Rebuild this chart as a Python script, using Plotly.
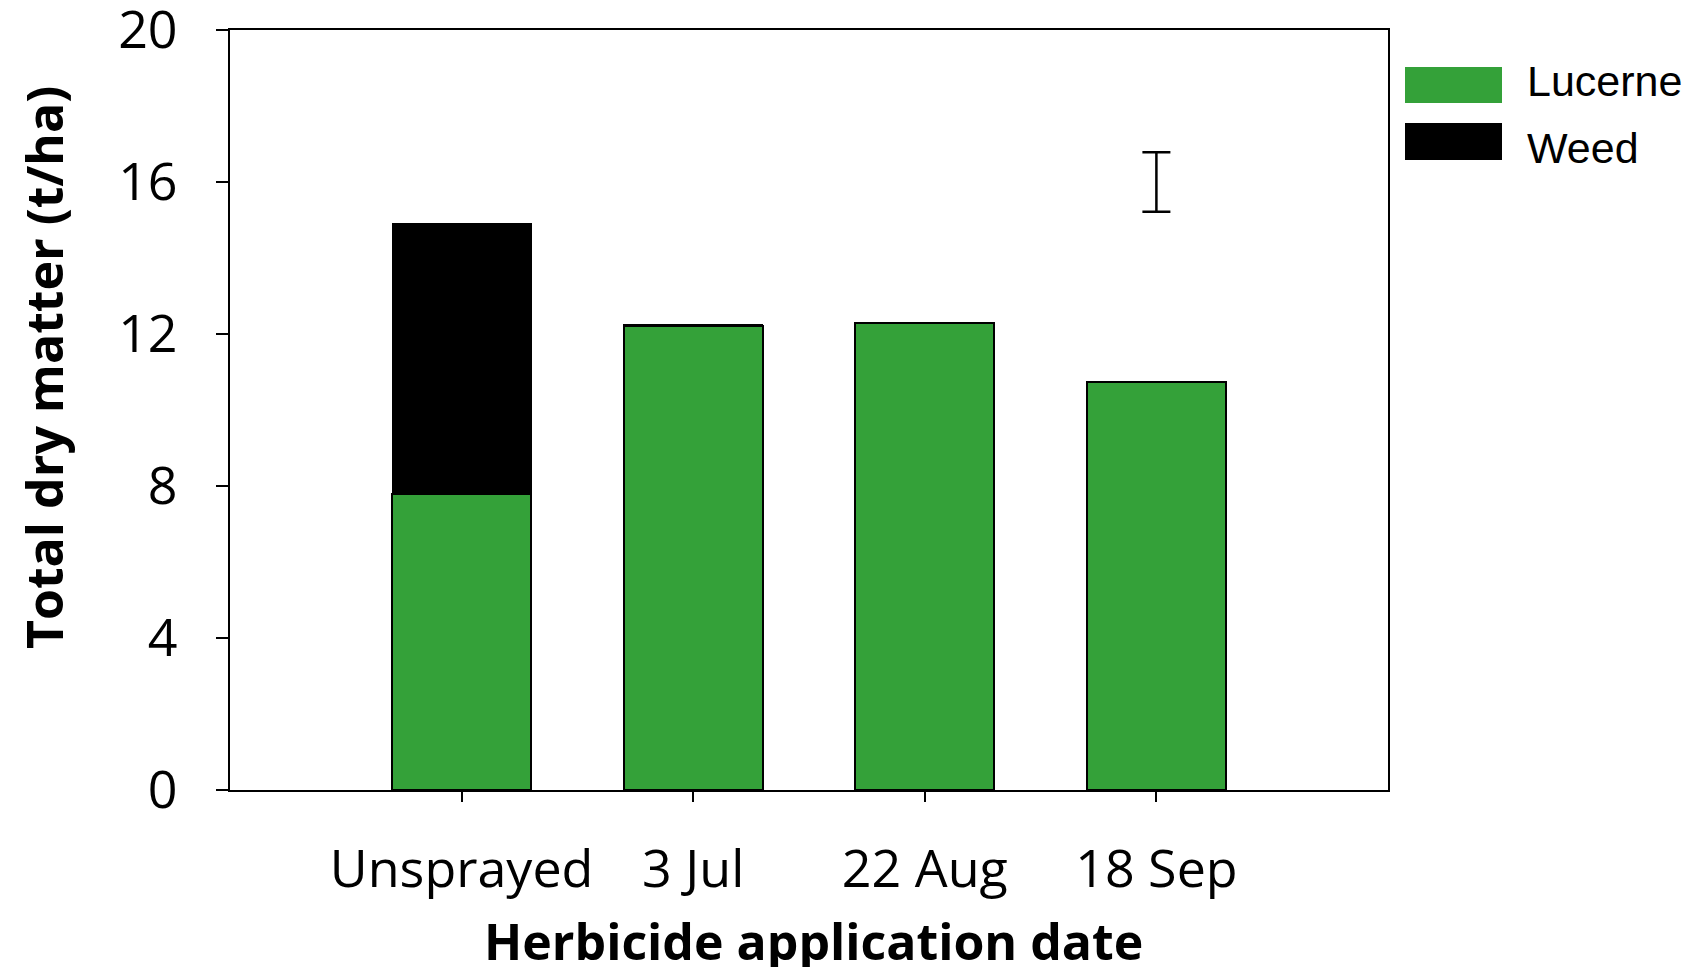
import plotly.graph_objects as go

categories = ["Unsprayed", "3 Jul", "22 Aug", "18 Sep"]
lucerne = [7.8, 12.2, 12.3, 10.75]
weed = [7.1, 0.05, 0.0, 0.0]
err_x = ["18 Sep"]
err_y = [16.0]
err_half = [0.78]
y_ticks = [0, 4, 8, 12, 16, 20]

GREEN = "#34A139"
fig = go.Figure()
fig.add_trace(go.Bar(x=categories, y=lucerne, name="Lucerne", width=0.6,
                     marker=dict(color=GREEN, line=dict(color="black", width=2))))
fig.add_trace(go.Bar(x=categories, y=weed, name="Weed", width=0.6,
                     marker=dict(color="black", line=dict(color="black", width=1))))
fig.add_trace(go.Scatter(x=err_x, y=err_y, mode="markers", marker=dict(size=1, color="rgba(0,0,0,0)"),
                         error_y=dict(type="data", array=err_half, visible=True, color="black",
                                      thickness=2.5, width=14), showlegend=False, hoverinfo="skip"))

OFF = 8  # default page body margin
L, R, T, B = 230 - OFF, 310, 30 - OFF, 177
W, H = 1698 - OFF, 967 - OFF
pw, ph = W - L - R, H - T - B

def px(x):
    return (x - OFF - L) / pw

def py(y):
    return (H - B - (y - OFF)) / ph

shapes = [
    dict(type="rect", xref="paper", yref="paper", x0=px(1405), x1=px(1502), y0=py(103), y1=py(67),
         fillcolor=GREEN, line=dict(width=0)),
    dict(type="rect", xref="paper", yref="paper", x0=px(1405), x1=px(1502), y0=py(160), y1=py(123),
         fillcolor="black", line=dict(width=0)),
]
annotations = [
    dict(text="Lucerne", xref="paper", yref="paper", x=px(1525), y=py(81), xanchor="left", yanchor="middle",
         showarrow=False, font=dict(family="Liberation Sans", size=43, color="black")),
    dict(text="Weed", xref="paper", yref="paper", x=px(1525), y=py(148), xanchor="left", yanchor="middle",
         showarrow=False, font=dict(family="Liberation Sans", size=43, color="black")),
    dict(text="<b>Herbicide application date</b>", xref="paper", yref="paper", x=px(813), y=py(941),
         xanchor="center", yanchor="middle", showarrow=False,
         font=dict(family="Open Sans", size=50, color="black")),
    dict(text="<b>Total dry matter (t/ha)</b>", xref="paper", yref="paper", x=px(44), y=py(368),
         xanchor="center", yanchor="middle", textangle=-90, showarrow=False,
         font=dict(family="Open Sans", size=50, color="black")),
]

fig.update_layout(
    barmode="stack", width=W, height=H, showlegend=False,
    margin=dict(l=L, r=R, t=T, b=B, autoexpand=False),
    plot_bgcolor="white", paper_bgcolor="white",
    font=dict(family="Open Sans", color="black"),
    shapes=shapes, annotations=annotations,
    xaxis=dict(range=[-1, 4], showline=True, linecolor="black", linewidth=2, mirror=True,
               ticks="outside", ticklen=10, tickwidth=1.5, tickcolor="black",
               tickfont=dict(size=52), ticklabelstandoff=23, ticklabeloverflow="allow",
               showgrid=False, zeroline=False),
    yaxis=dict(range=[0, 20], tickvals=y_ticks, showline=True, linecolor="black", linewidth=2, mirror=True,
               ticks="outside", ticklen=12, tickwidth=2, tickcolor="black",
               tickfont=dict(size=52), ticklabelstandoff=28, ticklabeloverflow="allow",
               showgrid=False, zeroline=False),
)
fig.write_html("out.html")
